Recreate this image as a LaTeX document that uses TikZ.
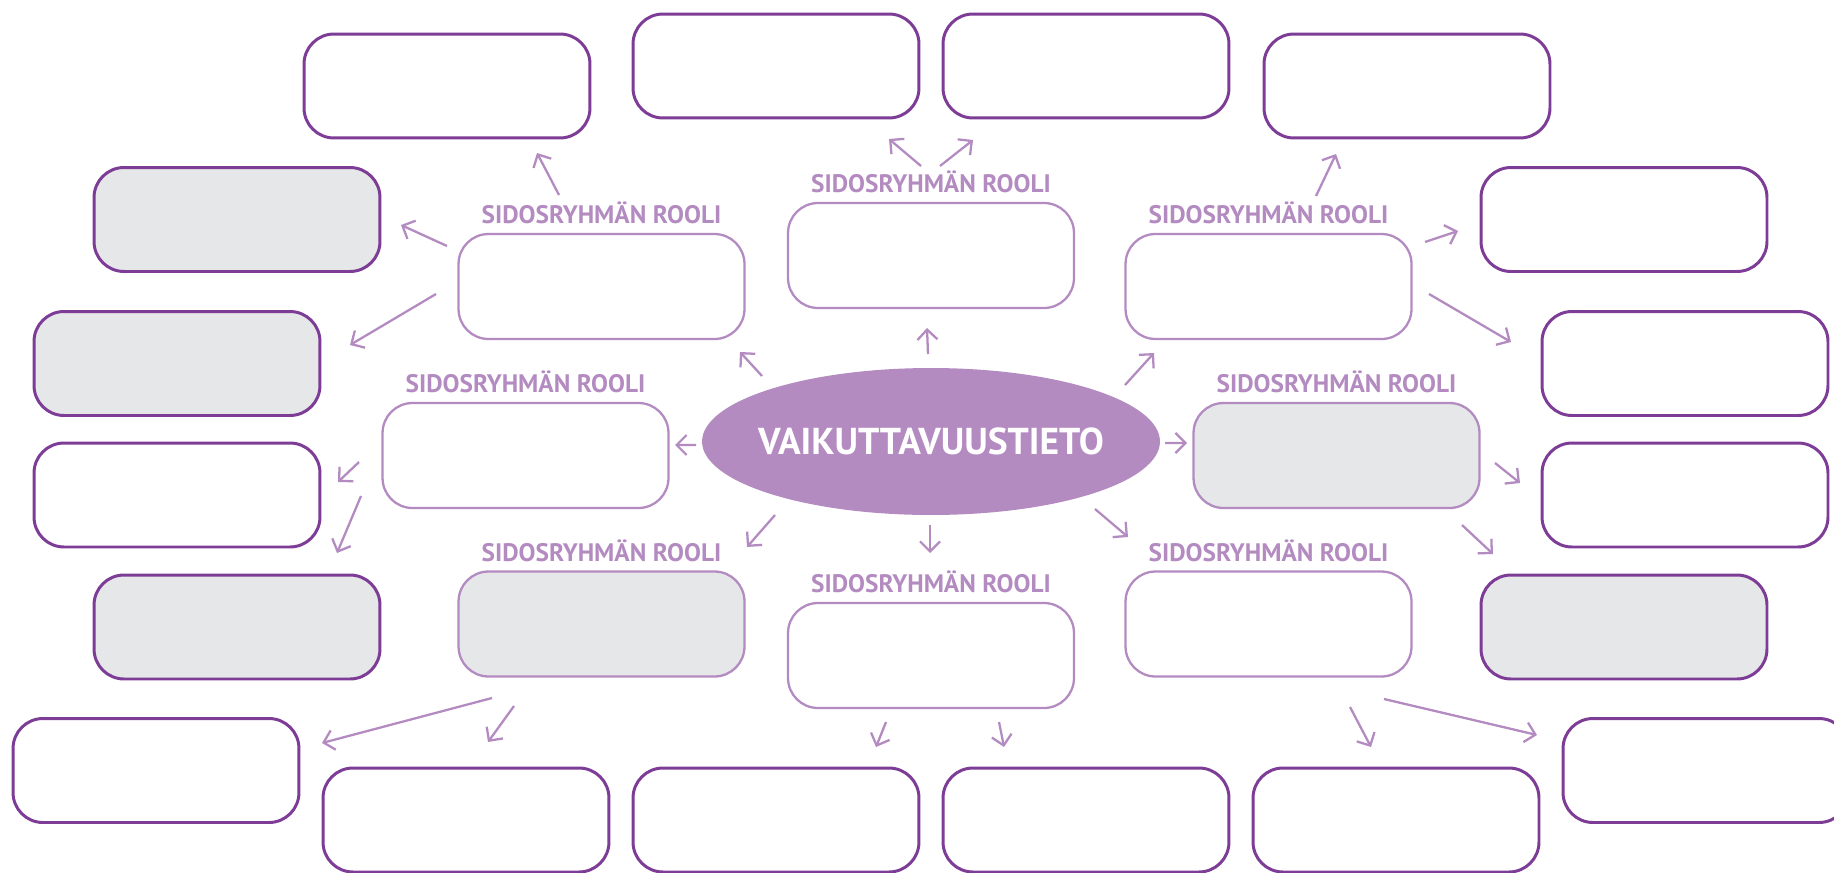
\documentclass[tikz,border=0pt]{standalone}
\usepackage{fontspec}
\setsansfont{PT Sans}
\usepackage{xcolor}
\usepackage{tikz}
\usetikzlibrary{shapes.geometric,positioning,arrows.meta}

\definecolor{darkpurple}{HTML}{7D3C96}
\definecolor{lightpurple}{HTML}{B38BC1}
\definecolor{boxgrey}{HTML}{E6E7E8}

\tikzset{
  outerbox/.style={draw=darkpurple, line width=1.7pt, rounded corners=0.6cm, minimum width=5.72cm, minimum height=2.08cm, inner sep=0pt},
  rolebox/.style={draw=lightpurple, line width=1.3pt, rounded corners=0.6cm, minimum width=5.72cm, minimum height=2.1cm, inner sep=0pt},
  greyfill/.style={fill=boxgrey},
  rolelabel/.style={text=lightpurple, font=\sffamily\bfseries\fontsize{14.4}{16}\selectfont, inner sep=0pt, text height=10pt, text depth=0pt},
  arr/.style={lightpurple, line width=1.3pt, -{Straight Barb[length=2mm,width=4mm]}}
}

\begin{document}
\begin{tikzpicture}[x=0.02cm, y=-0.02cm]
    \useasboundingbox (0,0) rectangle (1834,872);

    % Centre
    \node[ellipse, fill=lightpurple, minimum width=9.16cm, minimum height=2.94cm, inner sep=0pt] (vt) at (931,441.5) {};
    \node[font=\sffamily\bfseries\fontsize{21.3}{24}\selectfont, text=white] (vttext) at (vt) {VAIKUTTAVUUSTIETO};

    % Stakeholder role boxes
    \node[rolebox] (rA) at (601.5,286.5) {};
    \node[rolebox] (rB) at (931,255.5) {};
    \node[rolebox] (rC) at (1268.5,286.5) {};
    \node[rolebox] (rD) at (525.5,455.5) {};
    \node[rolebox, greyfill] (rE) at (1336.5,455.5) {};
    \node[rolebox, greyfill] (rF) at (601.5,624) {};
    \node[rolebox] (rG) at (931,655.5) {};
    \node[rolebox] (rH) at (1268.5,624) {};
    \foreach \r in {A,...,H} \node[rolelabel, above=0.18cm of r\r] (l\r) {SIDOSRYHMÄN ROOLI};

    % Outer boxes
    \node[outerbox] (o1) at (447,86) {};
    \node[outerbox] (o2) at (776,66) {};
    \node[outerbox] (o3) at (1086,66) {};
    \node[outerbox] (o4) at (1407,86) {};
    \node[outerbox, greyfill] (o5) at (237,219.5) {};
    \node[outerbox] (o6) at (1624,219.5) {};
    \node[outerbox, greyfill] (o7) at (177,363.5) {};
    \node[outerbox] (o8) at (1685,363.5) {};
    \node[outerbox] (o9) at (177,495) {};
    \node[outerbox] (o10) at (1685,495) {};
    \node[outerbox, greyfill] (o11) at (237,627) {};
    \node[outerbox, greyfill] (o12) at (1624,627) {};
    \node[outerbox] (o13) at (156,770.5) {};
    \node[outerbox] (o14) at (1706,770.5) {};
    \node[outerbox] (o15) at (466,820) {};
    \node[outerbox] (o16) at (776,820) {};
    \node[outerbox] (o17) at (1086,820) {};
    \node[outerbox] (o18) at (1396,820) {};

    % Arrows out of the centre
    \draw[arr] ([shift={(-169,-65.5)}]vt.center) -- ([shift={(138.5,65.5)}]rA.center);
    \draw[arr] ([shift={(-3,-87.5)}]vt.center) -- ([shift={(-4,72.5)}]rB.center);
    \draw[arr] ([shift={(194,-56.5)}]vt.center) -- ([shift={(-114.5,66.5)}]rC.center);
    \draw[arr] ([shift={(234,1.5)}]vt.center) -- ([shift={(-149.5,-12.5)}]rE.center);
    \draw[arr] ([shift={(-235,3.5)}]vt.center) -- ([shift={(149.5,-10.5)}]rD.center);
    \draw[arr] ([shift={(-156,73.5)}]vt.center) -- ([shift={(145.5,-77)}]rF.center);
    \draw[arr] ([shift={(-1,83.5)}]vt.center) -- ([shift={(-1,-102.5)}]rG.center);
    \draw[arr] ([shift={(164,67.5)}]vt.center) -- ([shift={(-140.5,-87)}]rH.center);

    % Arrows out of the role boxes
    \draw[arr] ([shift={(-42.5,-91.5)}]rA.center) -- ([shift={(90,67)}]o1.center);
    \draw[arr] ([shift={(-154.5,-40.5)}]rA.center) -- ([shift={(164,5.5)}]o5.center);
    \draw[arr] ([shift={(-165.5,7.5)}]rA.center) -- ([shift={(173,-18.5)}]o7.center);
    \draw[arr] ([shift={(-10,-89.5)}]rB.center) -- ([shift={(113,73)}]o2.center);
    \draw[arr] ([shift={(9,-89.5)}]rB.center) -- ([shift={(-113,74)}]o3.center);
    \draw[arr] ([shift={(47.5,-90.5)}]rC.center) -- ([shift={(-71,68)}]o4.center);
    \draw[arr] ([shift={(156.5,-44.5)}]rC.center) -- ([shift={(-166,11.5)}]o6.center);
    \draw[arr] ([shift={(160.5,7.5)}]rC.center) -- ([shift={(-174,-21.5)}]o8.center);
    \draw[arr] ([shift={(-166.5,6.5)}]rD.center) -- ([shift={(161,-13)}]o9.center);
    \draw[arr] ([shift={(-164.5,40.5)}]rD.center) -- ([shift={(100,-74)}]o11.center);
    \draw[arr] ([shift={(158.5,7.5)}]rE.center) -- ([shift={(-165,-12)}]o10.center);
    \draw[arr] ([shift={(125.5,69.5)}]rE.center) -- ([shift={(-131,-73)}]o12.center);
    \draw[arr] ([shift={(-109.5,74)}]rF.center) -- ([shift={(166,-27.5)}]o13.center);
    \draw[arr] ([shift={(-87.5,82)}]rF.center) -- ([shift={(22,-78)}]o15.center);
    \draw[arr] ([shift={(-45,66.5)}]rG.center) -- ([shift={(100,-73)}]o16.center);
    \draw[arr] ([shift={(68,66.5)}]rG.center) -- ([shift={(-82,-73)}]o17.center);
    \draw[arr] ([shift={(81.5,83)}]rH.center) -- ([shift={(-25,-73)}]o18.center);
    \draw[arr] ([shift={(115.5,75)}]rH.center) -- ([shift={(-169,-35.5)}]o14.center);
\end{tikzpicture}
\end{document}
